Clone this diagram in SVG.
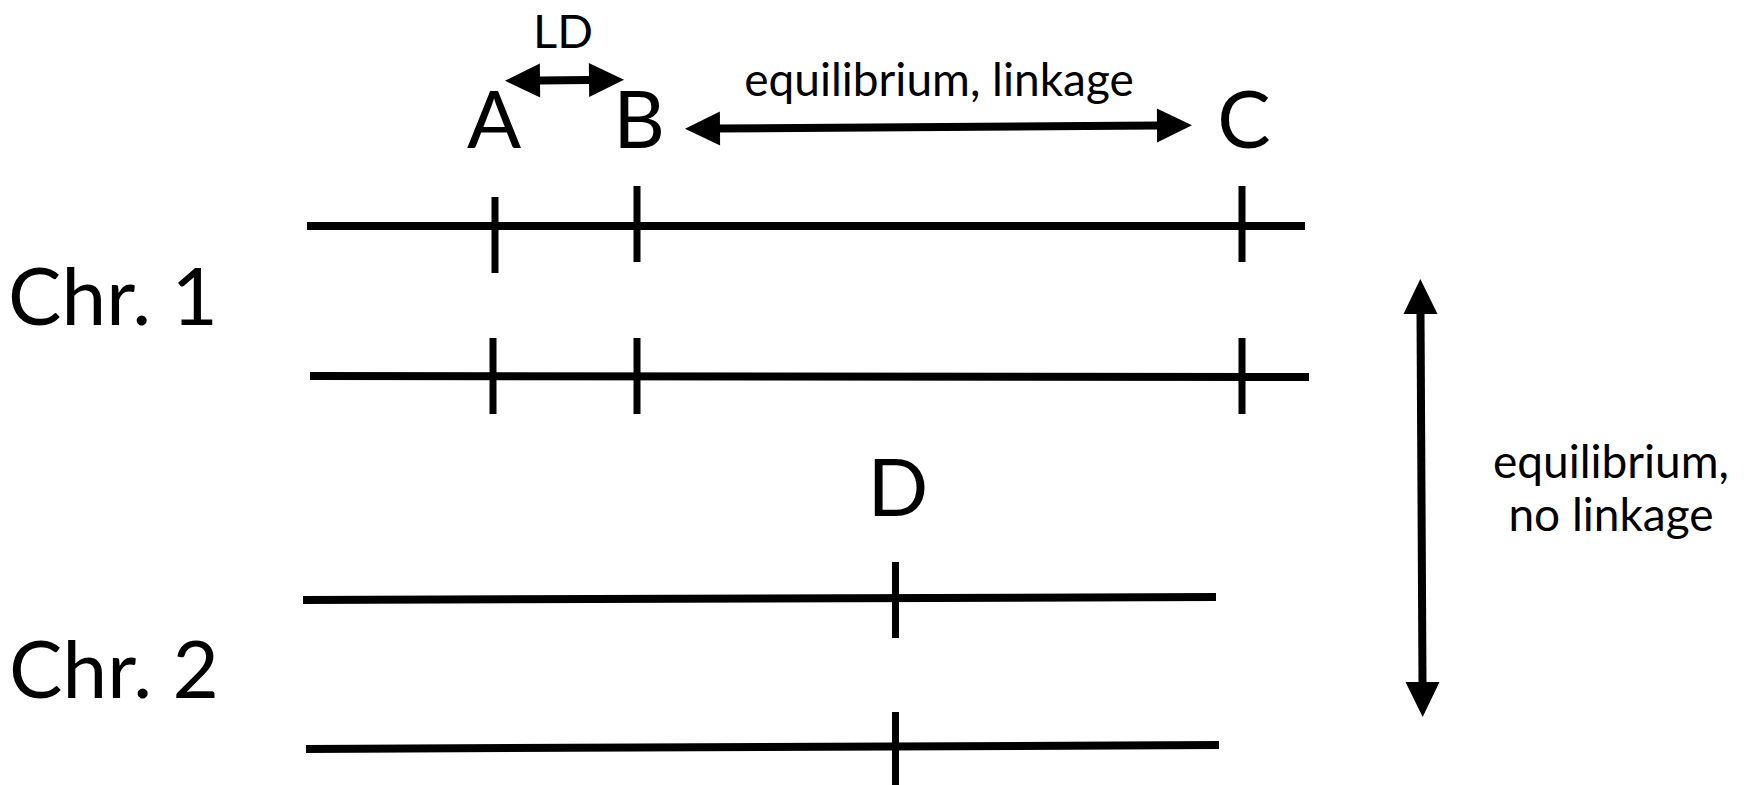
<svg xmlns="http://www.w3.org/2000/svg" width="1753" height="785" viewBox="0 0 1753 785">
<style>
.chr{stroke:#000;stroke-width:8;fill:none}
.tick{stroke:#000;stroke-width:7;fill:none}
.arr{stroke:#000;stroke-width:8;fill:none}
.t{font-family:Lato,"Open Sans","Liberation Sans",sans-serif;fill:#000;text-anchor:middle}
.big{font-size:80px}
.mid{font-size:46px}
</style>
<defs>
<marker id="ah" markerUnits="userSpaceOnUse" markerWidth="35" markerHeight="34" viewBox="0 0 35 34" refX="0" refY="17" orient="auto-start-reverse" overflow="visible">
<path d="M0,0 L35,17 L0,34 Z" fill="#000"/>
</marker>
</defs>
<rect width="1753" height="785" fill="#fff"/>
<g id="chr1-top">
<line class="chr" x1="307" y1="226" x2="1305" y2="226"/>
<line class="tick" x1="495" y1="197" x2="495" y2="273"/>
<line class="tick" x1="637" y1="186" x2="637" y2="262"/>
<line class="tick" x1="1242" y1="186" x2="1242" y2="262"/>
</g>
<g id="chr1-bottom">
<line class="chr" x1="310" y1="376" x2="1309" y2="377"/>
<line class="tick" x1="493" y1="338" x2="493" y2="414"/>
<line class="tick" x1="637" y1="338" x2="637" y2="414"/>
<line class="tick" x1="1242" y1="338" x2="1242" y2="414"/>
</g>
<g id="chr2-top">
<line class="chr" x1="303" y1="600" x2="1216" y2="597"/>
<line class="tick" x1="895.5" y1="562" x2="895.5" y2="638"/>
</g>
<g id="chr2-bottom">
<line class="chr" x1="306" y1="749" x2="1219" y2="745"/>
<line class="tick" x1="895.5" y1="712" x2="895.5" y2="785"/>
</g>
<g id="labels">
<text class="t big" x="113" y="325">Chr. 1</text>
<text class="t big" x="114" y="698">Chr. 2</text>
<text class="t big" x="494" y="148">A</text>
<text class="t big" x="639" y="148">B</text>
<text class="t big" x="1244" y="148">C</text>
<text class="t big" x="898" y="516">D</text>
<text class="t" style="font-size:47px" x="563" y="48">LD</text>
<text class="t mid" x="939" y="96">equilibrium, linkage</text>
<text class="t mid" x="1611" y="478">equilibrium,</text>
<text class="t mid" x="1611" y="531">no linkage</text>
</g>
<g id="connectors">
<line class="arr" x1="540" y1="80.5" x2="589" y2="80" marker-start="url(#ah)" marker-end="url(#ah)"/>
<line class="arr" x1="720" y1="128.5" x2="1157" y2="125.5" marker-start="url(#ah)" marker-end="url(#ah)"/>
<line class="arr" x1="1420.5" y1="314" x2="1422.5" y2="682" marker-start="url(#ah)" marker-end="url(#ah)"/>
</g>
</svg>
